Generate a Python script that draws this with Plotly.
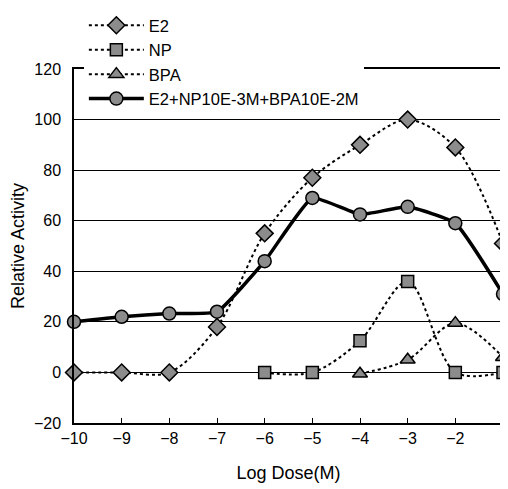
import plotly.graph_objects as go

log_dose = [-10, -9, -8, -7, -6, -5, -4, -3, -2, -1]
e2 = [0, 0, 0, 18, 55, 77, 90, 100, 89, 51]
np_x = [-6, -5, -4, -3, -2, -1]
np_vals = [0, 0, 12.5, 36, 0, 0]
bpa_x = [-4, -3, -2, -1]
bpa_vals = [-0.5, 5, 19.5, 6]
combo = [20, 22, 23.3, 24, 44, 69, 62.5, 65.5, 59, 31]
x_ticks = ["−10", "−9", "−8", "−7", "−6", "−5", "−4", "−3", "−2", "−1"]
y_tickvals = [-20, 0, 20, 40, 60, 80, 100, 120]
y_ticks = ["−20", "0", "20", "40", "60", "80", "100", "120"]

FONT = "Liberation Sans"
fill = "#8c8c8c"

fig = go.Figure()
common_line = dict(color="black", width=2, dash="dot", shape="spline", smoothing=0.9)
mk_line = dict(color="black", width=1.5)

fig.add_trace(go.Scatter(x=log_dose, y=e2, name="E2", mode="lines+markers",
                         line=common_line,
                         marker=dict(symbol="diamond", size=13, color=fill, line=mk_line),
                         cliponaxis=False))
fig.add_trace(go.Scatter(x=np_x, y=np_vals, name="NP", mode="lines+markers",
                         line=common_line,
                         marker=dict(symbol="square", size=12, color=fill, line=mk_line),
                         cliponaxis=False))
fig.add_trace(go.Scatter(x=bpa_x, y=bpa_vals, name="BPA", mode="lines+markers",
                         line=common_line,
                         marker=dict(symbol="triangle-up", size=13, color=fill, line=mk_line),
                         cliponaxis=False))
fig.add_trace(go.Scatter(x=log_dose, y=combo, name="E2+NP10E-3M+BPA10E-2M", mode="lines+markers",
                         line=dict(color="black", width=3.5, shape="spline", smoothing=0.4),
                         marker=dict(symbol="circle", size=13, color=fill, line=mk_line),
                         cliponaxis=False))

fig.update_layout(
    width=500, height=481,
    margin=dict(l=66, r=5, t=0, b=66, autoexpand=False),
    paper_bgcolor="white", plot_bgcolor="white",
    font=dict(family=FONT, size=15, color="black"),
    showlegend=True,
    legend=dict(x=0.023, y=1.0, xanchor="left", yanchor="top",
                bgcolor="white", borderwidth=0, itemwidth=55,
                font=dict(size=16.5), tracegroupgap=0),
    xaxis=dict(range=[-10, -1], tickmode="array", tickvals=log_dose,
               ticktext=x_ticks, automargin=False,
               showgrid=False, showline=True, linecolor="black", linewidth=1.5,
               mirror=True, ticks="inside", ticklen=5, tickcolor="black",
               zeroline=False, tickfont=dict(size=16),
               title=dict(text="Log Dose(M)", standoff=20, font=dict(size=18))),
    yaxis=dict(range=[-20, 120], domain=[0, 354 / 415], tickmode="array", tickvals=y_tickvals,
               ticktext=y_ticks, automargin=False,
               showgrid=True, gridcolor="black", gridwidth=1,
               showline=True, linecolor="black", linewidth=1.5, mirror=True,
               ticks="", zeroline=False, tickfont=dict(size=16), ticklabelstandoff=8,
               title=dict(text="Relative Activity", standoff=8, font=dict(size=18))),
)

fig.write_html("out.html")
